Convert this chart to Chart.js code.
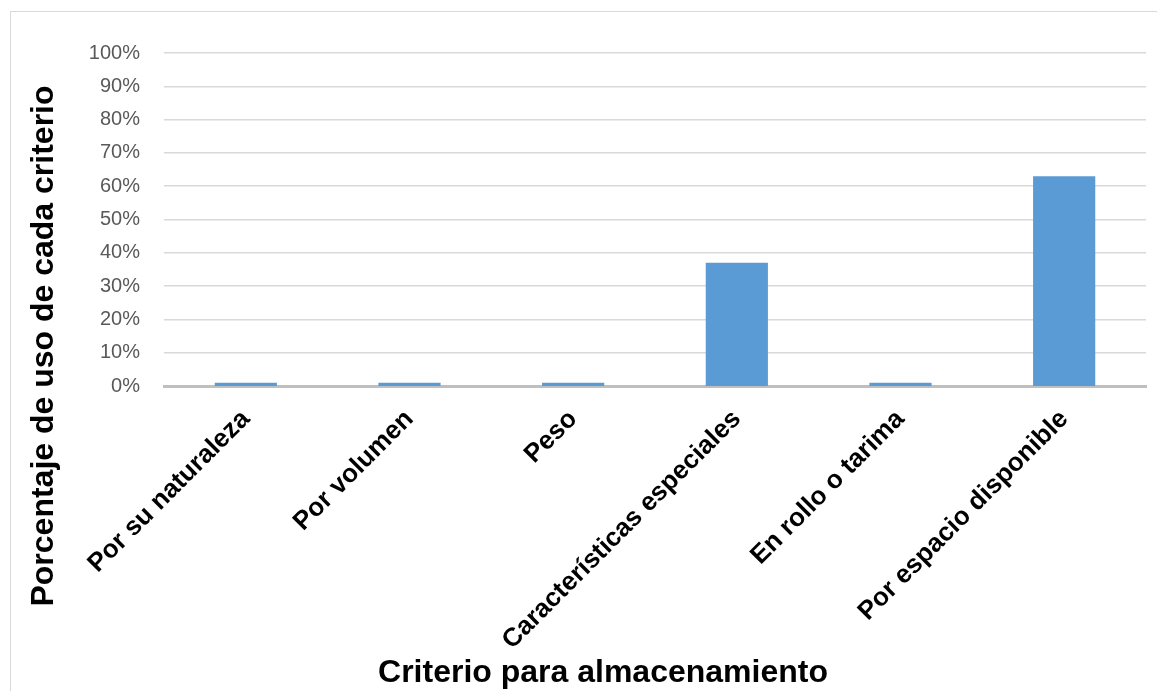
<!DOCTYPE html>
<html>
<head>
<meta charset="utf-8">
<script src="https://cdn.jsdelivr.net/npm/chart.js@4.4.1/dist/chart.umd.min.js"></script>
<style>
  html, body { margin: 0; padding: 0; background: #fff; overflow: hidden; }
  #frame { position: absolute; left: 10px; top: 11px; width: 1300px; height: 800px; border: 1.5px solid #d9d9d9; }
  #wrap { position: absolute; left: 0; top: 0; width: 1157px; height: 691px; }
</style>
</head>
<body>
<div id="frame"></div>
<div id="wrap"><canvas id="chart" width="1157" height="691"></canvas></div>
<script>
// Datos del gráfico
const categories = [
    'Por su naturaleza',
    'Por volumen',
    'Peso',
    'Características especiales',
    'En rollo o tarima',
    'Por espacio disponible'
];
const percentages = [1, 1, 1, 37, 1, 63];
const yTitle = 'Porcentaje de uso de cada criterio';
const xTitle = 'Criterio para almacenamiento';

const FONT = "'Liberation Sans', Arial, sans-serif";

// Títulos de los ejes dibujados a mano (posición como en el original)
const axisTitles = {
    id: 'axisTitles',
    afterDraw(chart) {
        const ctx = chart.ctx;
        ctx.save();
        ctx.fillStyle = '#000';
        ctx.font = 'bold 32px ' + FONT;
        ctx.textAlign = 'center';
        ctx.textBaseline = 'alphabetic';
        ctx.fillText(xTitle, 603, 682);
        ctx.translate(53, 346);
        ctx.rotate(-Math.PI / 2);
        ctx.fillText(yTitle, 0, 0);
        ctx.restore();
    }
};

new Chart(document.getElementById('chart').getContext('2d'), {
    type: 'bar',
    data: {
        labels: categories,
        datasets: [{
            data: percentages,
            backgroundColor: '#5b9bd5',
            borderWidth: 0,
            barPercentage: 0.38,
            categoryPercentage: 1
        }]
    },
    options: {
        responsive: false,
        animation: false,
        layout: { padding: { left: 70, right: 11, top: 53, bottom: 0 } },
        plugins: {
            legend: { display: false },
            tooltip: { enabled: false }
        },
        scales: {
            x: {
                afterFit(scale) { scale.height = 305; },
                grid: { display: false, drawTicks: false },
                border: { display: true, color: '#bfbfbf', width: 3 },
                ticks: {
                    color: '#000',
                    font: { family: FONT, size: 26, weight: 'bold' },
                    minRotation: 45,
                    maxRotation: 45,
                    autoSkip: false,
                    padding: 18
                }
            },
            y: {
                min: 0,
                max: 100,
                afterFit(scale) { scale.width = 94; },
                grid: {
                    color: '#d9d9d9',
                    lineWidth: (c) => c.tick && c.tick.value === 0 ? 0 : 1.5,
                    drawTicks: false
                },
                border: { display: false },
                ticks: {
                    stepSize: 10,
                    color: '#595959',
                    font: { family: FONT, size: 20 },
                    padding: 24,
                    callback: (v) => v + '%'
                }
            }
        }
    },
    plugins: [axisTitles]
});
</script>
</body>
</html>
